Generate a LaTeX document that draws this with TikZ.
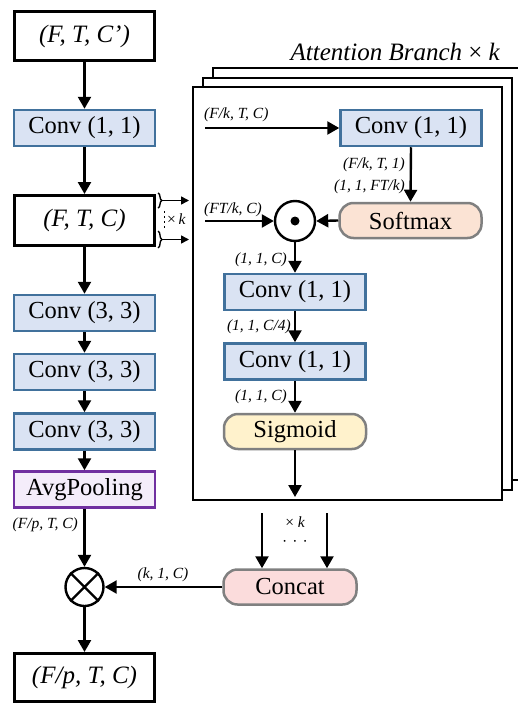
\documentclass[tikz,border=0pt]{standalone}
\usepackage{fontspec}
\setmainfont{Liberation Serif}
\usetikzlibrary{arrows.meta,decorations.pathreplacing}
\definecolor{convfill}{HTML}{DAE3F3}
\definecolor{convdraw}{HTML}{41719C}
\definecolor{poolfill}{HTML}{F4EDFA}
\definecolor{pooldraw}{HTML}{7030A0}
\definecolor{softfill}{HTML}{FBE3D4}
\definecolor{sigfill}{HTML}{FFF2CC}
\definecolor{catfill}{HTML}{FBDCDC}
\definecolor{capdraw}{HTML}{808080}
\begin{document}
\begin{tikzpicture}[x=1pt,y=-1pt,
 big/.style={font=\fontsize{24.5}{28}\selectfont},
 lab/.style={font=\fontsize{15.5}{18}\selectfont\itshape, inner sep=0pt},
 tensor/.style={draw=black, line width=3pt, fill=white, minimum width=140pt, font=\fontsize{25}{28}\selectfont\itshape, inner sep=0pt},
 conv/.style={draw=convdraw, fill=convfill, line width=2.5pt, minimum width=141pt, minimum height=36pt, big, inner sep=0pt},
 pool/.style={conv, draw=pooldraw, fill=poolfill},
 capsule/.style={draw=capdraw, line width=2.5pt, rounded corners=14pt, minimum height=35pt, minimum width=142pt, big, inner sep=0pt},
 arr/.style={line width=2.4pt, -{Triangle[length=12pt,width=13pt]}},
 sarr/.style={line width=1.5pt, -{Triangle[length=8pt,width=8pt]}},
 frame/.style={draw=black, line width=2pt, fill=white},
 op/.style={circle, draw=black, line width=2.4pt, minimum size=40pt, inner sep=0pt, fill=white},
]
\useasboundingbox (0,0) rectangle (517,704);
% left column
\node[tensor, minimum height=49pt] (in) at (84.5,36) {(F, T, C’)};
\node[conv] (c1) at (84.5,128) {Conv (1, 1)};
\node[tensor, minimum height=50pt] (ftc) at (84.5,220.5) {(F, T, C)};
\node[conv] (c3a) at (84.5,313) {Conv (3, 3)};
\node[conv] (c3b) at (84.5,372) {Conv (3, 3)};
\node[conv] (c3c) at (84.5,431.5) {Conv (3, 3)};
\node[pool] (avg) at (84.5,489.5) {AvgPooling};
\node[op, minimum size=38pt] (mul) at (84.5,587) {};
\draw[line width=2.4pt] (mul.north west) -- (mul.south east) (mul.north east) -- (mul.south west);
\node[tensor, minimum height=48pt] (out) at (84.5,677.5) {(F/p, T, C)};
\draw[arr] (in.south) -- (c1.north);
\draw[arr] (c1.south) -- (ftc.north);
\draw[arr] (ftc.south) -- (c3a.north);
\draw[arr] (c3a.south) -- (c3b.north);
\draw[arr] (c3b.south) -- (c3c.north);
\draw[arr] (c3c.south) -- (avg.north);
\draw[arr] (avg.south) -- (mul.north);
\draw[arr] (mul.south) -- (out.north);
\node[lab, anchor=east] (lH) at (78,525) {(F/p, T, C)};
% brackets
\draw[line width=1.4pt, decorate, decoration={brace, amplitude=4pt}] (158,193) -- (158,208);
\draw[line width=1.4pt, decorate, decoration={brace, amplitude=4pt}] (158,231) -- (158,248);
\coordinate (b1) at (162,200.5);
\coordinate (b1e) at (189,200.5);
\coordinate (b2) at (162,239.5);
\coordinate (b2e) at (189,239.5);
\draw[sarr] (b1) -- (b1e);
\draw[sarr] (b2) -- (b2e);
\draw[line width=1.6pt, dash pattern=on 1.6pt off 3.4pt] (164.5,211) -- (164.5,229);
\node[lab, anchor=west] (bk) at (167,219) {{\upshape ×}\,k};
% frames
\draw[frame] (213,68) rectangle (526,480);
\draw[frame] (203,78) rectangle (512,490);
\draw[frame] (193,87) rectangle (502,500);
\node[anchor=base east, font=\fontsize{25}{28}\selectfont\itshape, inner sep=0pt] (title) at (500,60) {Attention Branch {\upshape ×} k};
% inside branch
\node[conv] (ac1) at (411,128) {Conv (1, 1)};
\node[capsule, fill=softfill] (soft) at (410.5,220.5) {Softmax};
\node[op] (dot) at (295,221) {};
\fill (dot.center) circle (4.5pt);
\node[conv] (ac2) at (295,292) {Conv (1, 1)};
\node[conv] (ac3) at (295,361.5) {Conv (1, 1)};
\node[capsule, fill=sigfill] (sig) at (295,431.5) {Sigmoid};
\coordinate (sigend) at (295,497);
\coordinate (inA) at (205,128);
\coordinate (inB) at (205,221);
\draw[arr] (inA) -- (ac1.west);
\draw[arr] (ac1.south) -- (soft.north);
\draw[arr] (inB) -- (dot.west);
\draw[arr] (soft.west) -- (dot.east);
\draw[arr] (dot.south) -- (ac2.north);
\draw[arr] (ac2.south) -- (ac3.north);
\draw[arr] (ac3.south) -- (sig.north);
\draw[arr] (sig.south) -- (sigend);
\node[lab, anchor=west] (lA) at (204,115) {(F/k, T, C)};
\node[lab, anchor=west] (lB) at (204,210) {(FT/k, C)};
\node[lab, anchor=east] (lC) at (405,165) {(F/k, T, 1)};
\node[lab, anchor=east] (lD) at (405,187) {(1, 1, FT/k)};
\node[lab, anchor=east] (lE) at (287,260) {(1, 1, C)};
\node[lab, anchor=east] (lF) at (291,327) {(1, 1, C/4)};
\node[lab, anchor=east] (lG) at (287,397) {(1, 1, C)};
% concat
\node[capsule, fill=catfill, minimum width=133pt] (cat) at (290,587) {Concat};
\coordinate (k1) at (262,513);
\coordinate (k2) at (327,513);
\draw[arr] (k1) -- (k1 |- cat.north);
\draw[arr] (k2) -- (k2 |- cat.north);
\node[lab] (lk) at (295,522) {{\upshape ×} k};
\node[lab, anchor=base] (ldots) at (295,546) {{\upshape ·\,\,·\,\,·}};
\draw[arr] (cat.west) -- (mul.east);
\node[lab] (lI) at (163,575) {(k, 1, C)};
\end{tikzpicture}
\end{document}
